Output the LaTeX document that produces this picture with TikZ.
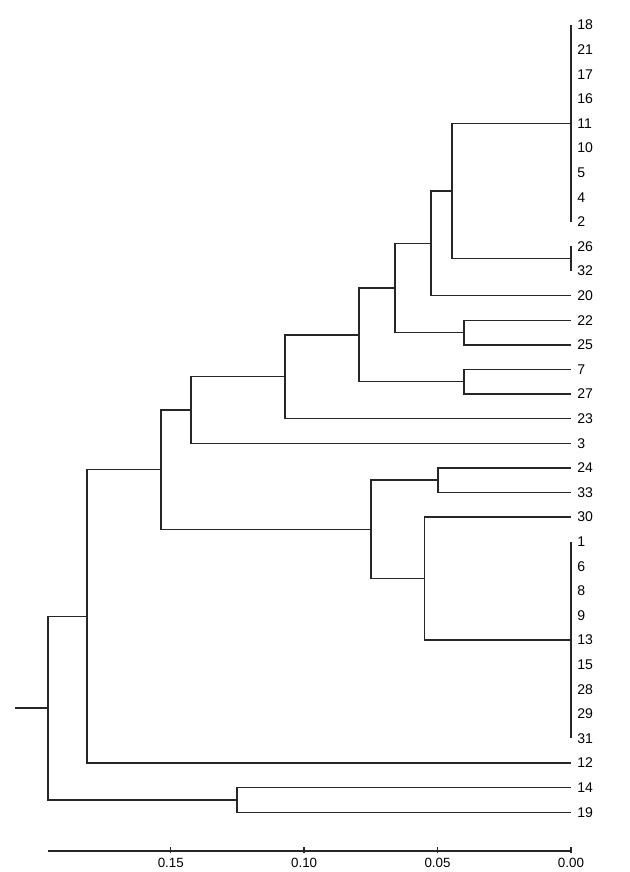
\documentclass[tikz,border=0pt]{standalone}
\usepackage{fontspec}
\setmainfont{Liberation Sans}

\begin{document}
\begin{tikzpicture}[
    x={(-0.667cm,0)}, y={(0,-0.615cm)},
    leaf/.style={anchor=west, inner xsep=0.15cm, inner ysep=1pt,
      font=\fontsize{10}{11}\selectfont},
    link/.style={line width=1pt, draw=black!85},
    ticklabel/.style={font=\fontsize{9.5}{10}\selectfont}
]
\useasboundingbox (21.40,-1.016) rectangle (-2.21,34.43);

% leaves, top to bottom (x = distance*100, y = row)
\foreach \lab [count=\i from 0] in {18,21,17,16,11,10,5,4,2,26,32,20,22,25,7,27,23,3,24,33,30,1,6,8,9,13,15,28,29,31,12,14,19}
  \node[leaf] (n\lab) at (0,\i) {\lab};

% zero-distance groups
\draw[link] (n18.west) -- (n2.west);
\draw[link] (n26.west) -- (n32.west);
\draw[link] (n1.west) -- (n31.west);
\coordinate (gB) at (0,9.5);

% merge points
\coordinate (kAB)   at (4.46,6.75);
\coordinate (kABC)  at (5.25,8.875);
\coordinate (k2225) at (4.01,12.5);
\coordinate (kD)    at (6.60,10.6875);
\coordinate (k727)  at (4.01,14.5);
\coordinate (kE)    at (7.95,12.594);
\coordinate (kF)    at (10.72,14.297);
\coordinate (kG)    at (14.24,15.648);
\coordinate (k2433) at (4.98,18.5);
\coordinate (kH2)   at (5.49,22.5);
\coordinate (kH)    at (7.50,20.5);
\coordinate (kI)    at (15.37,18.074);
\coordinate (kJ)    at (18.14,24.037);
\coordinate (k1419) at (12.52,31.5);
\coordinate (kroot) at (19.60,27.77);
\coordinate (stub)  at (20.84,27.77);

\draw[link] (n11.west) -| (kAB) |- (gB);
\draw[link] (kAB) -| (kABC) |- (n20.west);
\draw[link] (n22.west) -| (k2225) |- (n25.west);
\draw[link] (kABC) -| (kD) |- (k2225);
\draw[link] (n7.west) -| (k727) |- (n27.west);
\draw[link] (kD) -| (kE) |- (k727);
\draw[link] (kE) -| (kF) |- (n23.west);
\draw[link] (kF) -| (kG) |- (n3.west);
\draw[link] (n24.west) -| (k2433) |- (n33.west);
\draw[link] (n30.west) -| (kH2) |- (n13.west);
\draw[link] (k2433) -| (kH) |- (kH2);
\draw[link] (kG) -| (kI) |- (kH);
\draw[link] (kI) -| (kJ) |- (n12.west);
\draw[link] (n14.west) -| (k1419) |- (n19.west);
\draw[link] (kJ) -| (kroot) |- (k1419);
\draw[link] (stub) -- (kroot);

% distance axis
\coordinate (ax0) at (0,33.58);
\coordinate (ax1) at (19.60,33.58);
\draw[link] (ax1) -- (ax0);
\foreach \d/\t in {0/0.00,5/0.05,10/0.10,15/0.15} {
  \draw[link] (\d,33.41) -- (\d,33.66);
  \node[ticklabel] (t\d) at (\d,34.07) {\t};
}
\end{tikzpicture}
\end{document}
